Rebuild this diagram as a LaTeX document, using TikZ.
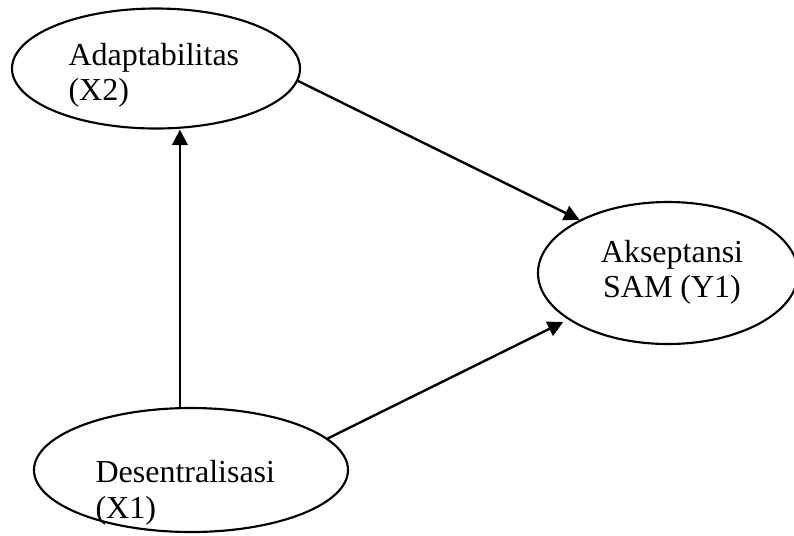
\documentclass[tikz,border=0pt]{standalone}
\usepackage{fontspec}
\setmainfont{Liberation Serif}
\usetikzlibrary{shapes.geometric,arrows.meta,calc}
\begin{document}
\begin{tikzpicture}[x=0.375pt,y=-0.375pt,
  latent/.style={draw,ellipse,line width=0.8pt,inner sep=0pt},
  lbl/.style={anchor=base west,inner sep=0pt,font=\fontsize{12}{14}\selectfont},
  lblc/.style={anchor=base,inner sep=0pt,font=\fontsize{12}{14}\selectfont},
  conn/.style={line width=0.9pt,-{Triangle[length=5.8pt,width=5.8pt]}}]
\useasboundingbox (0,0) rectangle (794,535);
\node[latent,minimum width=108pt,minimum height=45pt] (adapt) at (156,68.5) {};
\node[latent,minimum width=97.5pt,minimum height=53.25pt] (aksep) at (668,273) {};
\node[latent,minimum width=117.75pt,minimum height=46.5pt] (desent) at (191,470) {};
\node[lbl] (adaptA) at (68,65) {Adaptabilitas};
\node[lbl] (adaptB) at (68,100) {(X2)};
\node[lblc] (aksepA) at (672,262) {Akseptansi};
\node[lblc] (aksepB) at (672,297) {SAM (Y1)};
\node[lbl] (desA) at (95,482) {Desentralisasi};
\node[lbl] (desB) at (95,518) {(X1)};
\draw[conn] (desent.100) -- (desent.100 |- adapt.south);
\draw[conn] (adapt.-5) -- (aksep.149);
\draw[conn,shorten >=2pt] (desent.13) -- (aksep.205);
\end{tikzpicture}
\end{document}
